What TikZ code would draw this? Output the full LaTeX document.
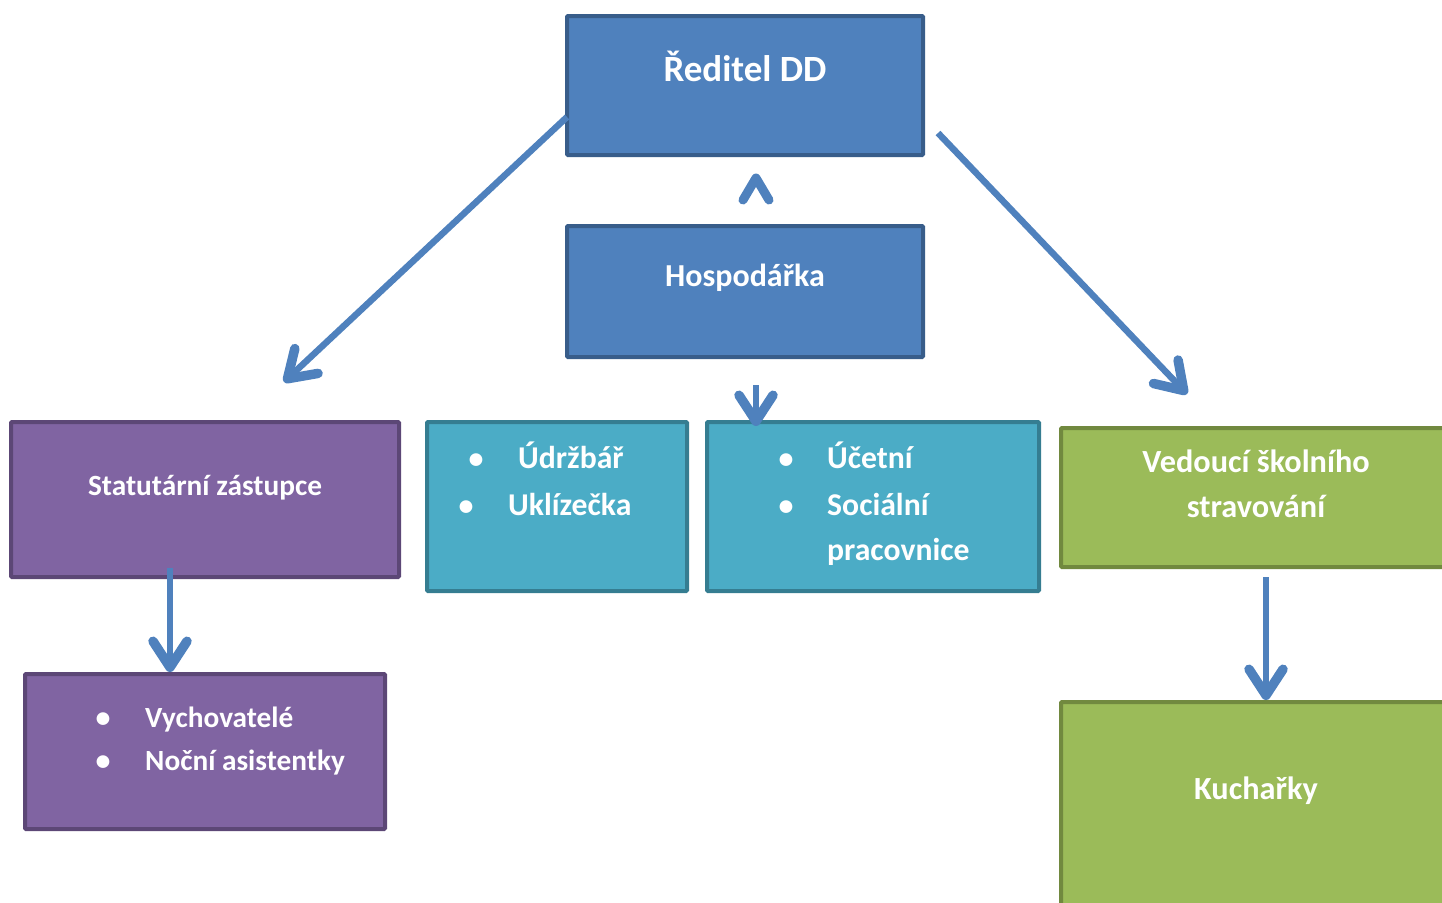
\documentclass[tikz,border=0pt]{standalone}
\usepackage{fontspec}
\setmainfont{Carlito}
\usetikzlibrary{arrows.meta}
\definecolor{bfill}{HTML}{4F81BD}
\definecolor{bdraw}{HTML}{385D8A}
\definecolor{pfill}{HTML}{8064A2}
\definecolor{pdraw}{HTML}{5C4776}
\definecolor{tfill}{HTML}{4BACC6}
\definecolor{tdraw}{HTML}{357D91}
\definecolor{gfill}{HTML}{9BBB59}
\definecolor{gdraw}{HTML}{71893F}
\definecolor{arr}{HTML}{4F81BD}
\tikzset{
  box/.style={line width=4pt, rounded corners=1pt},
  bluebox/.style={box, fill=bfill, draw=bdraw},
  purplebox/.style={box, fill=pfill, draw=pdraw},
  tealbox/.style={box, fill=tfill, draw=tdraw},
  greenbox/.style={box, fill=gfill, draw=gdraw},
  lbl/.style={text=white, font=\bfseries\fontsize{29.3}{34}\selectfont, anchor=base, inner sep=0pt},
  lbll/.style={lbl, anchor=base west},
  tl/.style={font=\bfseries\fontsize{31.7}{36}\selectfont},
  gl/.style={font=\bfseries\fontsize{32.3}{36}\selectfont},
  conn/.style={draw=arr, line width=6.5pt, -{Straight Barb[length=26pt,width=34pt,line width=9.5pt,round]}},
  chev/.style={draw=arr, line width=9pt, line cap=round, line join=round},
}
\newcommand{\bul}{\makebox[0pt][c]{\fontsize{30}{30}\selectfont•}}
\begin{document}
\begin{tikzpicture}[x=1pt,y=-1pt]
\useasboundingbox (0,0) rectangle (1442,902);
\clip (0,0) rectangle (1442,902);
% boxes
\draw[bluebox] (567,16) rectangle (923,155);
\draw[bluebox] (567,226) rectangle (923,357);
\draw[purplebox] (11,422) rectangle (399,577);
\draw[tealbox] (427,422) rectangle (687,591);
\draw[tealbox] (707,422) rectangle (1039,591);
\draw[greenbox] (1061,428) rectangle (1460,567);
\draw[purplebox] (25,674) rectangle (385,829);
\draw[greenbox] (1061,702) rectangle (1460,920);
% texts
\node[lbl, font=\bfseries\fontsize{37}{40}\selectfont] (tred) at (745,81) {Ředitel DD};
\node[lbl, font=\bfseries\fontsize{32}{36}\selectfont] (thos) at (745,286) {Hospodářka};
\node[lbl] (tstat) at (205,495) {Statutární zástupce};
\node[lbl, gl] (tved1) at (1256,472) {Vedoucí školního};
\node[lbl, gl] (tved2) at (1256,517) {stravování};
\node[lbl, gl] (tkuch) at (1256,799) {Kuchařky};
% bullet lists
\node[lbl] (b1) at (476,468) {\bul};
\node[lbll, tl] (l1) at (518,468) {Údržbář};
\node[lbl] (b2) at (466,515) {\bul};
\node[lbll, tl] (l2) at (508,515) {Uklízečka};
\node[lbl] (b3) at (786,468) {\bul};
\node[lbll, tl] (l3) at (827,468) {Účetní};
\node[lbl] (b4) at (786,515) {\bul};
\node[lbll, tl] (l4) at (827,515) {Sociální};
\node[lbll, tl] (l5) at (827,560) {pracovnice};
\node[lbl] (b5) at (103,727) {\bul};
\node[lbll] (l6) at (145,727) {Vychovatelé};
\node[lbl] (b6) at (103,770) {\bul};
\node[lbll] (l7) at (145,770) {Noční asistentky};
% connectors
\coordinate (a1s) at (567,117);
\coordinate (a1e) at (284,382);
\coordinate (a2s) at (938,133);
\coordinate (a2e) at (1187,394);
\coordinate (a3s) at (756,385);
\coordinate (a3e) at (756,426);
\coordinate (a4s) at (170,568);
\coordinate (a4e) at (170,672);
\coordinate (a5s) at (1266,577);
\coordinate (a5e) at (1266,700);
\draw[conn] (a1s) -- (a1e);
\draw[conn] (a2s) -- (a2e);
\draw[conn] (a3s) -- (a3e);
\draw[conn] (a4s) -- (a4e);
\draw[conn] (a5s) -- (a5e);
\coordinate (c1) at (743,200);
\coordinate (c2) at (756,178);
\coordinate (c3) at (769,200);
\draw[chev] (c1) -- (c2) -- (c3);
\end{tikzpicture}
\end{document}
